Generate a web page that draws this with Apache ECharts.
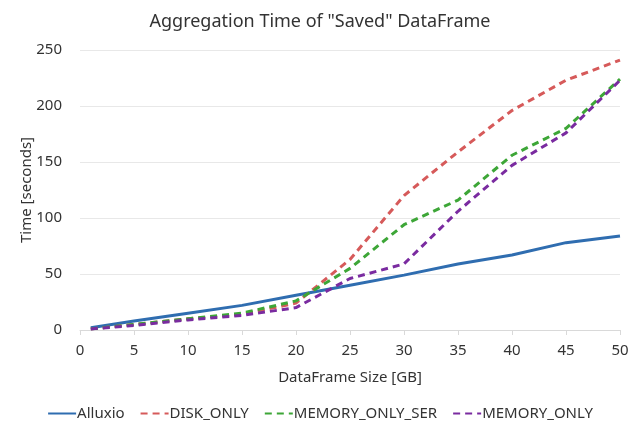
<!DOCTYPE html>
<html>
<head>
<meta charset="utf-8">
<script src="https://cdn.jsdelivr.net/npm/echarts@6/dist/echarts.min.js"></script>
<style>html,body{margin:0;padding:0;background:#fff;}#c{width:640px;height:436px;}</style>
</head>
<body>
<div id="c"></div>
<script>
var sizes = [1, 5, 10, 15, 20, 25, 30, 35, 40, 45, 50];
var alluxio = [2, 8, 15, 22, 31, 40, 49, 59, 67, 78, 84];
var diskOnly = [1, 5, 10, 14, 24, 63, 120, 159, 196, 223, 241];
var memoryOnlySer = [1, 5, 10, 15, 26, 55, 94, 116, 156, 180, 224];
var memoryOnly = [1, 4, 9, 13, 20, 46, 59, 106, 147, 176, 223];
var seriesNames = ['Alluxio', 'DISK_ONLY', 'MEMORY_ONLY_SER', 'MEMORY_ONLY'];

function pairs(vals) { return sizes.map(function (x, i) { return [x, vals[i]]; }); }

var FONT = 'Noto Sans';
var chart = echarts.init(document.getElementById('c'));
chart.setOption({
  animation: false,
  textStyle: { fontFamily: FONT },
  title: {
    text: 'Aggregation Time of "Saved" DataFrame',
    left: 'center', top: 8,
    textStyle: { fontFamily: FONT, fontSize: 18, fontWeight: 'normal', color: '#333' }
  },
  legend: {
    bottom: 10, left: 'center',
    itemWidth: 28, itemHeight: 10, itemGap: 15,
    itemStyle: { opacity: 0 },
    textStyle: { fontFamily: FONT, fontSize: 15, color: '#333', padding: [0, 0, 0, -4] },
    data: seriesNames
  },
  grid: { left: 80, right: 20, top: 50, bottom: 106 },
  xAxis: {
    type: 'value', min: 0, max: 50, interval: 5,
    name: 'DataFrame Size [GB]', nameLocation: 'middle', nameGap: 40, nameMoveOverlap: false,
    nameTextStyle: { fontFamily: FONT, fontSize: 15, color: '#333' },
    axisLine: { show: true, lineStyle: { color: '#d9d9d9' } },
    axisTick: { show: true, length: 5, lineStyle: { color: '#d9d9d9' } },
    axisLabel: { fontFamily: FONT, fontSize: 15, color: '#333', margin: 13 },
    splitLine: { show: false }
  },
  yAxis: {
    type: 'value', min: 0, max: 250, interval: 50,
    name: 'Time [seconds]', nameLocation: 'middle', nameGap: 46, nameRotate: 90, nameMoveOverlap: false,
    nameTextStyle: { fontFamily: FONT, fontSize: 15, color: '#333' },
    axisLine: { show: false }, axisTick: { show: false },
    axisLabel: { fontFamily: FONT, fontSize: 15, color: '#333', margin: 18 },
    splitLine: { lineStyle: { color: '#e8e8e8' } }
  },
  series: [
    { name: seriesNames[0], type: 'line', data: pairs(alluxio), symbol: 'none',
      lineStyle: { color: '#2f6db0', width: 3 }, itemStyle: { color: '#2f6db0' } },
    { name: seriesNames[1], type: 'line', data: pairs(diskOnly), symbol: 'none',
      lineStyle: { color: '#d65a5a', width: 3, type: [7, 5] }, itemStyle: { color: '#d65a5a' } },
    { name: seriesNames[2], type: 'line', data: pairs(memoryOnlySer), symbol: 'none',
      lineStyle: { color: '#3da637', width: 3, type: [7, 5] }, itemStyle: { color: '#3da637' } },
    { name: seriesNames[3], type: 'line', data: pairs(memoryOnly), symbol: 'none',
      lineStyle: { color: '#7a2ba0', width: 3, type: [7, 5] }, itemStyle: { color: '#7a2ba0' } }
  ]
});
</script>
</body>
</html>
